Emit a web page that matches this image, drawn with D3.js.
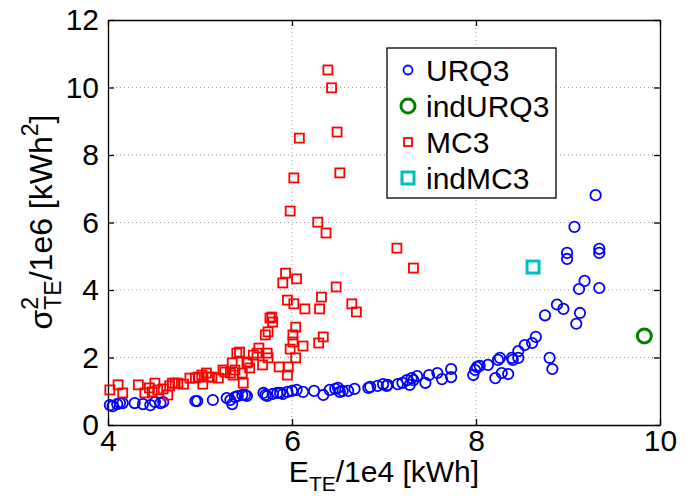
<!DOCTYPE html>
<html>
<head>
<meta charset="UTF-8">
<title>variance vs energy</title>
<script src="https://cdn.jsdelivr.net/npm/d3@7"></script>
<style>
  body { margin: 0; background: #fff; }
  text { font-family: "Liberation Sans", Arial, sans-serif; }
</style>
</head>
<body>
<svg id="chart" width="694" height="500"></svg>
<script>
// data: [E_TE/1e4, sigma^2/1e6]
var urq3 = [[4.02,0.59],[4.05,0.56],[4.10,0.62],[4.13,0.65],[4.16,0.65],[4.29,0.65],[4.38,0.62],[4.46,0.59],
  [4.51,0.68],[4.57,0.65],[4.60,0.68],[4.95,0.71],[4.97,0.71],[5.14,0.74],[5.29,0.80],[5.33,0.74],[5.35,0.62],
  [5.38,0.83],[5.41,0.86],[5.46,0.89],[5.49,0.89],[5.51,0.86],[5.69,0.95],[5.71,0.89],[5.73,0.86],[5.79,0.92],
  [5.84,0.95],[5.87,0.95],[5.90,0.92],[5.95,0.98],[6.00,1.01],[6.05,1.04],[6.12,0.98],[6.24,1.01],[6.34,0.89],
  [6.41,1.04],[6.47,1.07],[6.50,1.10],[6.52,0.98],[6.55,1.01],[6.61,1.01],[6.68,1.07],[6.83,1.10],[6.85,1.13],
  [6.93,1.16],[6.99,1.21],[7.04,1.19],[7.15,1.21],[7.03,1.16],[7.20,1.25],[7.25,1.33],[7.28,1.19],[7.30,1.39],
  [7.32,1.33],[7.36,1.45],[7.45,1.25],[7.49,1.48],[7.58,1.54],[7.63,1.36],[7.73,1.66],[7.73,1.42],[7.97,1.48],
  [7.99,1.63],[8.01,1.72],[8.04,1.75],[8.13,1.78],[8.21,1.39],[8.24,1.93],[8.26,1.99],[8.28,1.54],[8.35,1.51],
  [8.39,1.99],[8.40,1.93],[8.46,1.99],[8.46,2.19],[8.53,2.37],[8.61,2.43],[8.65,2.61],[8.75,3.25],[8.88,3.57],
  [8.95,3.44],[8.80,1.99],[8.83,1.66],[9.13,3.32],[9.09,3.00],[9.12,4.03],[9.18,4.27],[9.34,4.06],[8.99,4.92],
  [8.99,5.10],[9.34,5.10],[9.34,5.22],[9.07,5.87],[9.30,6.81]];

var mc3 = [[4.02,1.04],[4.11,1.19],[4.16,0.95],[4.33,1.19],[4.40,0.95],[4.45,1.10],[4.48,0.98],[4.51,1.24],
  [4.54,1.04],[4.60,1.07],[4.65,0.89],[4.67,1.16],[4.70,1.24],[4.73,1.24],[4.76,1.24],[4.82,1.21],[4.89,1.39],
  [4.95,1.39],[4.98,1.42],[5.02,1.48],[5.03,1.21],[5.07,1.54],[5.09,1.42],[5.13,1.42],[5.20,1.39],[5.25,1.63],
  [5.27,1.57],[5.33,1.54],[5.35,1.84],[5.36,1.48],[5.38,1.63],[5.40,2.13],[5.43,2.16],[5.46,1.54],[5.47,1.24],
  [5.51,1.84],[5.52,1.87],[5.54,1.69],[5.58,2.07],[5.62,2.13],[5.64,2.28],[5.68,1.78],[5.73,2.13],[5.74,1.99],
  [5.71,2.67],[5.74,2.76],[5.78,3.20],[5.79,3.05],[5.76,3.17],[5.86,1.72],[5.95,1.48],[5.96,1.72],
  [6.39,10.52],[6.43,9.99],[6.08,8.50],[6.49,8.68],[6.02,7.32],[6.52,7.47],[5.98,6.34],[6.28,6.01],[6.37,5.69],
  [7.14,5.24],[7.32,4.65],[5.93,4.50],[5.90,4.21],[6.05,4.33],[6.48,4.09],[5.95,3.70],[6.02,3.59],[6.14,3.44],
  [6.32,3.79],[6.30,3.44],[6.65,3.59],[6.70,3.35],[6.04,2.90],[6.01,2.67],[6.01,2.46],[6.34,2.61],[6.29,2.43],
  [6.12,2.34],[5.98,2.25],[6.04,1.99]];

var indURQ3 = [[9.83,2.64]];
var indMC3 = [[8.62,4.68]];

var xTicks = [4, 6, 8, 10];
var yTicks = [0, 2, 4, 6, 8, 10, 12];
var legendNames = ["URQ3", "indURQ3", "MC3", "indMC3"];

var svg = d3.select("#chart");
var x = d3.scaleLinear().domain([4, 10]).range([108, 660]);
var y = d3.scaleLinear().domain([0, 12]).range([425, 20]);
var fs = 30;

// dotted grid
var grid = svg.append("g").attr("stroke", "#999").attr("stroke-width", 1).attr("stroke-dasharray", "1,3");
grid.selectAll(".gx").data(xTicks.slice(1, -1)).enter().append("line")
  .attr("x1", d => x(d)).attr("x2", d => x(d)).attr("y1", y(0)).attr("y2", y(12));
grid.selectAll(".gy").data(yTicks.slice(1, -1)).enter().append("line")
  .attr("y1", d => y(d)).attr("y2", d => y(d)).attr("x1", x(4)).attr("x2", x(10));

// axes, ticks inside, box on
function styleAxis(g) {
  g.select(".domain").attr("stroke", "#000").attr("stroke-width", 1.3);
  g.selectAll(".tick line").attr("stroke", "#000").attr("stroke-width", 1.3);
  g.selectAll("text").attr("font-size", fs).attr("fill", "#000")
    .attr("font-family", "'Liberation Sans', Arial, sans-serif");
}
var fmt = d3.format("d");
svg.append("g").attr("transform", "translate(0," + y(0) + ")")
  .call(d3.axisBottom(x).tickValues(xTicks).tickFormat(fmt).tickSize(-6).tickSizeOuter(0).tickPadding(5)).call(styleAxis);
svg.append("g").attr("transform", "translate(0," + y(12) + ")")
  .call(d3.axisTop(x).tickValues(xTicks).tickSize(-6).tickSizeOuter(0).tickFormat("")).call(styleAxis);
svg.append("g").attr("transform", "translate(" + x(4) + ",0)")
  .call(d3.axisLeft(y).tickValues(yTicks).tickFormat(fmt).tickSize(-6).tickSizeOuter(0).tickPadding(9)).call(styleAxis);
svg.append("g").attr("transform", "translate(" + x(10) + ",0)")
  .call(d3.axisRight(y).tickValues(yTicks).tickSize(-6).tickSizeOuter(0).tickFormat("")).call(styleAxis);

// markers
var blue = "#0000ff", green = "#008000", red = "#ff0000", cyan = "#00bfbf";
function circles(data, r, col, sw) {
  svg.append("g").selectAll("circle").data(data).enter().append("circle")
    .attr("cx", d => x(d[0])).attr("cy", d => y(d[1])).attr("r", r)
    .attr("fill", "none").attr("stroke", col).attr("stroke-width", sw);
}
function squares(data, s, col, sw) {
  svg.append("g").selectAll("rect").data(data).enter().append("rect")
    .attr("x", d => x(d[0]) - s / 2).attr("y", d => y(d[1]) - s / 2)
    .attr("width", s).attr("height", s)
    .attr("fill", "none").attr("stroke", col).attr("stroke-width", sw);
}
circles(urq3, 5.2, blue, 1.8);
squares(mc3, 9, red, 1.8);
circles(indURQ3, 7, green, 3);
squares(indMC3, 12, cyan, 3);

// x label
var xl = svg.append("text").attr("x", 384).attr("y", 482).attr("text-anchor", "middle").attr("font-size", fs);
xl.append("tspan").text("E");
xl.append("tspan").attr("font-size", 21).attr("dy", 9).text("TE");
xl.append("tspan").attr("dy", -9).text("/1e4 [kWh]");

// y label, built in a rotated frame
var yfs = 32, ysub = 23;
var yl = svg.append("g").attr("transform", "translate(52,222) rotate(-90)");
var parts = yl.append("g");
var sig = parts.append("text").attr("font-size", yfs).attr("x", 0).text("σ");
var sw0 = sig.node().getComputedTextLength();
var sup1 = parts.append("text").attr("font-size", ysub).attr("x", sw0).attr("y", -14).text("2");
var sub1 = parts.append("text").attr("font-size", ysub).attr("x", sw0).attr("y", 9).text("TE");
var w1 = sw0 + Math.max(sup1.node().getComputedTextLength(), sub1.node().getComputedTextLength());
var rest = parts.append("text").attr("font-size", yfs).attr("x", w1).text("/1e6 [kWh");
var w2 = w1 + rest.node().getComputedTextLength();
var sup2 = parts.append("text").attr("font-size", ysub).attr("x", w2).attr("y", -14).text("2");
var w3 = w2 + sup2.node().getComputedTextLength();
var br = parts.append("text").attr("font-size", yfs).attr("x", w3).text("]");
var total = w3 + br.node().getComputedTextLength();
parts.attr("transform", "translate(" + (-total / 2) + ",0)");

// legend
var lg = svg.append("g");
lg.append("rect").attr("x", 387).attr("y", 48).attr("width", 169).attr("height", 150)
  .attr("fill", "#fff").attr("stroke", "#000").attr("stroke-width", 1.3);
var rowY = d3.scalePoint().domain(legendNames).range([70, 178]);
legendNames.forEach(function (name, i) {
  var cy = rowY(name), cx = 408;
  if (i === 0) lg.append("circle").attr("cx", cx).attr("cy", cy).attr("r", 4.5).attr("fill", "none").attr("stroke", blue).attr("stroke-width", 1.8);
  if (i === 1) lg.append("circle").attr("cx", cx).attr("cy", cy).attr("r", 7).attr("fill", "none").attr("stroke", green).attr("stroke-width", 3);
  if (i === 2) lg.append("rect").attr("x", cx - 4).attr("y", cy - 4).attr("width", 8).attr("height", 8).attr("fill", "none").attr("stroke", red).attr("stroke-width", 1.8);
  if (i === 3) lg.append("rect").attr("x", cx - 6).attr("y", cy - 6).attr("width", 12).attr("height", 12).attr("fill", "none").attr("stroke", cyan).attr("stroke-width", 3);
  lg.append("text").attr("x", 426).attr("y", cy + 11).attr("font-size", fs).text(name);
});
</script>
</body>
</html>
